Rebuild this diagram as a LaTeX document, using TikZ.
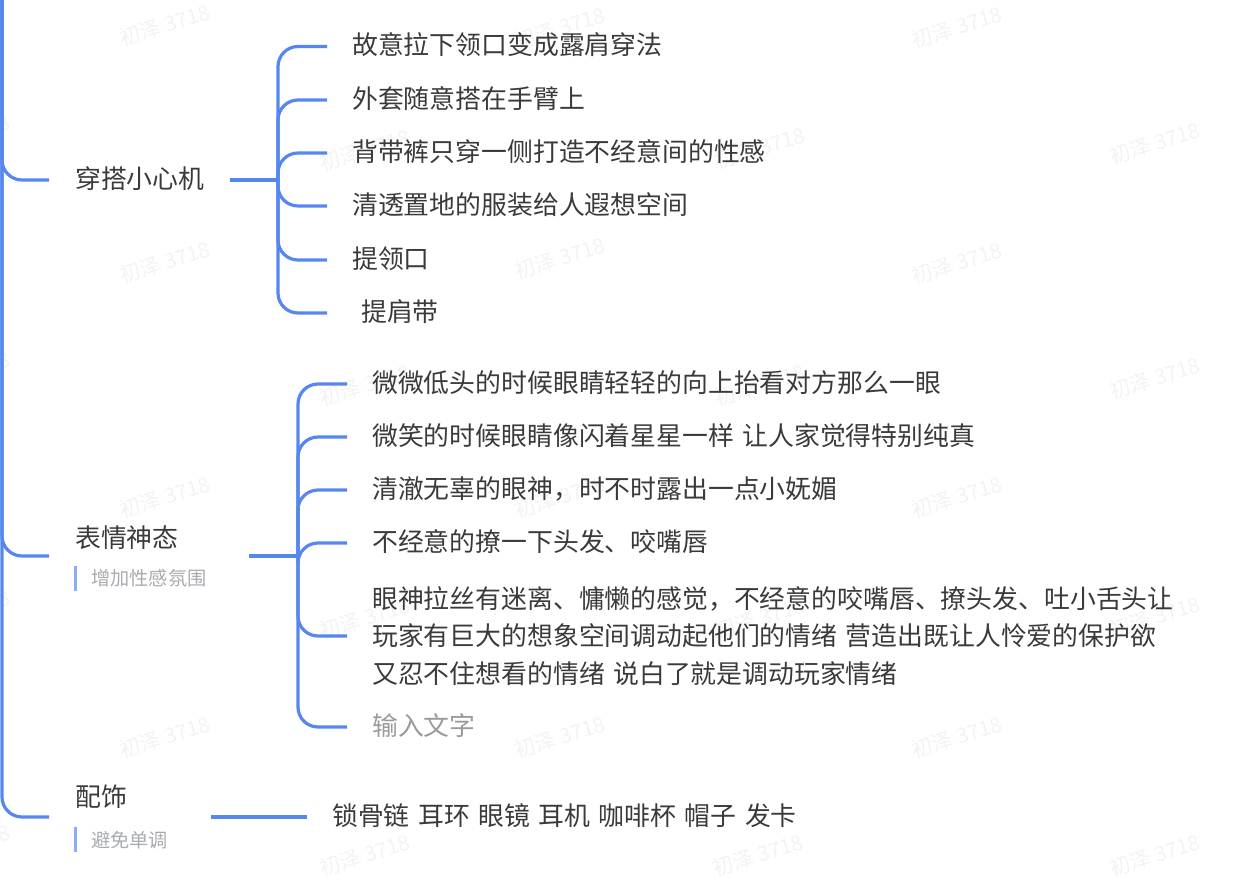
\documentclass[tikz,border=0pt]{standalone}
\usepackage{fontspec}
\setmainfont{Noto Sans CJK SC}
\usepackage{tikz}
\definecolor{linkblue}{HTML}{5686F0}
\definecolor{barblue}{HTML}{8CADF5}
\definecolor{inkgrey}{HTML}{3A3A3A}
\definecolor{notegrey}{HTML}{A8ABB0}
\definecolor{hintgrey}{HTML}{9A9A9A}
\definecolor{markgrey}{HTML}{F3F3F3}
\newcommand{\widespace}{\spaceskip=8.5pt\relax}

\begin{document}
\begin{tikzpicture}[x=1pt,y=-1pt,line cap=round]
\tikzstyle{topic} = [anchor=west, inner xsep=26pt, inner ysep=0pt, align=left, text=inkgrey, font=\fontsize{25.85}{39}\selectfont]
\tikzstyle{block} = [anchor=west, inner xsep=25pt, inner ysep=0pt, align=left, text=inkgrey, font=\fontsize{25.85}{37.8}\selectfont\widespace]
\tikzstyle{lifted} = [text height=22.7pt, text depth=5.9pt]
\tikzstyle{item} = [block, lifted]
\tikzstyle{notebar} = [fill=barblue, inner sep=0pt, minimum width=3pt, minimum height=25pt]
\tikzstyle{stem} = [draw=linkblue, line width=4pt, line cap=butt]
\tikzstyle{branch} = [draw=linkblue, line width=3.2pt, line cap=butt, rounded corners=20pt, to path={|- (\tikztotarget.west)}]
\tikzstyle{seal} = [text=markgrey, rotate=17, font=\fontsize{21}{21}\selectfont]
\newcommand{\notetext}[1]{{\fontsize{19.2}{19.2}\selectfont\color{notegrey}\hspace*{16pt}#1}}

\useasboundingbox (0,0) rectangle (1245,894);
\clip (0,0) rectangle (1245,894);

% watermark
\foreach \mx/\my [count=\i] in {165/25,560/28,957/27,365/150,760/148,1155/143,165/262,560/258,957/263,-35/372,365/385,760/385,1155/378,165/497,560/497,957/497,-35/610,365/618,760/618,1155/617,165/737,560/737,957/737,-35/845,365/855,758/855,1155/855,-35/135}
    \node (m\i) at (\mx,\my) [seal] {初泽 3718};

% spine
\coordinate (root) at (2,-10);
\node (t1) at (49,180) [topic, lifted, text width=129pt] {穿搭小心机};
\node (t2) at (49,556) [topic, text width=148pt] {表情神态\\[-1pt]\notetext{增加性感氛围}};
\node (t3) at (49,817) [topic, text width=110pt] {配饰\\[2pt]\notetext{避免单调}};
\node (b2) at (75,578.5) [notebar] {};
\node (b3) at (75,839) [notebar] {};

% first group
\coordinate (bus1) at (278,180);
\node (c11) at (327,46.5) [item] {故意拉下领口变成露肩穿法};
\node (c12) at (327,100) [item] {外套随意搭在手臂上};
\node (c13) at (327,153) [item] {背带裤只穿一侧打造不经意间的性感};
\node (c14) at (327,206) [item] {清透置地的服装给人遐想空间};
\node (c15) at (327,260) [item] {提领口};
\node (c16) at (327,313) [item] {\hspace*{9pt}提肩带};

% second group
\coordinate (bus2) at (298,556);
\node (c21) at (347,384) [item] {微微低头的时候眼睛轻轻的向上抬看对方那么一眼};
\node (c22) at (347,437) [item] {微笑的时候眼睛像闪着星星一样 让人家觉得特别纯真};
\node (c23) at (347,490) [item] {清澈无辜的眼神，时不时露出一点小妩媚};
\node (c24) at (347,543) [item] {不经意的撩一下头发、咬嘴唇};
\node (c25) at (347,636) [block] {眼神拉丝有迷离、慵懒的感觉，不经意的咬嘴唇、撩头发、吐小舌头让\\玩家有巨大的想象空间调动起他们的情绪 营造出既让人怜爱的保护欲\\又忍不住想看的情绪 说白了就是调动玩家情绪};
\node (c26) at (347,727) [item, text=hintgrey] {输入文字};

% third group
\node (c31) at (307,817) [item] {锁骨链 耳环 眼镜 耳机 咖啡杯 帽子 发卡};

\path
    (root) edge [branch] (t1)
           edge [branch] (t2)
           edge [branch] (t3)
    (bus1) edge [branch] (c11)
           edge [branch] (c12)
           edge [branch] (c13)
           edge [branch] (c14)
           edge [branch] (c15)
           edge [branch] (c16)
    (bus2) edge [branch] (c21)
           edge [branch] (c22)
           edge [branch] (c23)
           edge [branch] (c24)
           edge [branch] (c25)
           edge [branch] (c26);

\draw [stem] (t1.east) -- (bus1);
\draw [stem] (t2.east) -- (bus2);
\draw [stem, line width=3.2pt] (t3.east) -- (c31.west);

\end{tikzpicture}
\end{document}
